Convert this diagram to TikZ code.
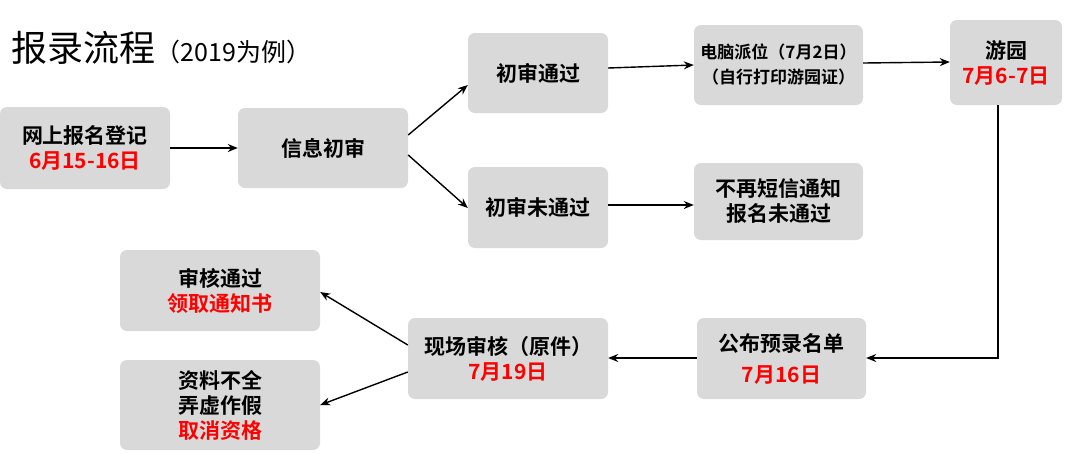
\documentclass[tikz,border=0pt]{standalone}
\usepackage{fontspec}
\newfontfamily\cjk{Noto Sans CJK SC}
\newfontfamily\cjkb{Noto Sans CJK SC Bold}
\usetikzlibrary{arrows.meta}
\definecolor{boxgray}{HTML}{D9D9D9}
\tikzset{x=1pt,y=-1pt,
 box/.style={fill=boxgray,rounded corners=7pt,align=center,font=\cjkb\fontsize{21}{25}\selectfont},
 arr/.style={-{Stealth[length=10pt,width=8pt]},line width=1.4pt}}
\newcommand{\red}[1]{\textcolor{red}{#1}}
\begin{document}
\begin{tikzpicture}
\fill[white] (0,0) rectangle (1080,453);
\node[anchor=west,font=\cjk\fontsize{36}{40}\selectfont] (title) at (8,48) {报录流程\fontsize{25}{28}\selectfont（2019为例）};
\newcommand{\bx}[6]{\node[box,minimum width=#4-#2,minimum height=#5-#3] (#1) at ({(#2+#4)/2},{(#3+#5)/2}) {#6};}
\bx{a}{0}{107}{170}{189}{网上报名登记\\\red{6月15-16日}}
\bx{b}{238}{108}{408}{188}{信息初审}
\bx{c}{468}{33}{608}{113}{初审通过}
\bx{d}{468}{167}{608}{248}{初审未通过}
\bx{e}{694}{25}{863}{105}{\fontsize{17}{22}\selectfont 电脑派位（7月2日）\\\fontsize{17}{22}\selectfont（自行打印游园证）}
\bx{f}{694}{163}{863}{240}{不再短信通知\\报名未通过}
\bx{g}{950}{20}{1062}{105}{游园\\\red{7月6-7日}}
\bx{h}{697}{318}{866}{399}{公布预录名单\\[6pt]\red{7月16日}}
\bx{i}{408}{318}{608}{399}{现场审核（原件）\\\red{7月19日}}
\bx{j}{120}{250}{320}{331}{审核通过\\\red{领取通知书}}
\bx{k}{120}{360}{320}{450}{资料不全\\弄虚作假\\\red{取消资格}}
\draw[arr] (a.east) -- (b.west);
\draw[arr] (b.east|-0,135) -- (c.west|-0,85);
\draw[arr] (b.east|-0,155) -- (d.west|-0,208);
\draw[arr] (c.east|-0,68) -- (e.west|-0,65);
\draw[arr] (d.east|-0,205) -- (f.west|-0,205);
\draw[arr] (e.east|-0,63) -- (g.west|-0,62);
\draw[arr] (g.south-|998,0) -- (998,358) -- (h.east|-0,358);
\draw[arr] (h.west|-0,358) -- (i.east|-0,358);
\draw[arr] (i.west|-0,345) -- (j.east|-0,292);
\draw[arr] (i.west|-0,372) -- (k.east|-0,405);
\end{tikzpicture}
\end{document}
